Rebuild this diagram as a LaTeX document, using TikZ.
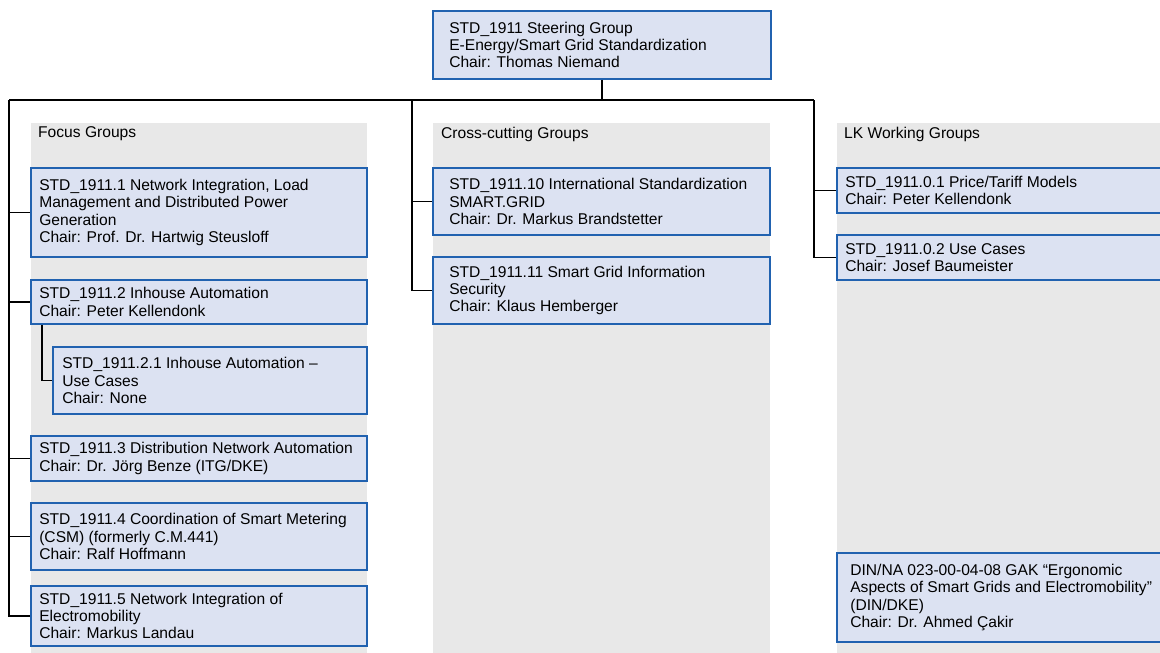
\documentclass[tikz,border=0pt]{standalone}
\usepackage{fontspec}
\setmainfont{Liberation Sans}
\definecolor{boxblue}{HTML}{2162B0}
\definecolor{boxfill}{HTML}{DCE2F2}
\definecolor{panelgray}{HTML}{E8E8E8}
\begin{document}
\begin{tikzpicture}[x=1pt,y=-1pt,
  panel/.style={fill=panelgray,draw=none},
  box/.style={draw=boxblue,fill=boxfill,line width=1.8pt,rectangle,inner sep=0pt},
  txt/.style={anchor=west,inner sep=0pt,align=left,font=\fontsize{15.6}{17.3}\selectfont},
  lbl/.style={anchor=west,inner sep=0pt,font=\fontsize{15.6}{17.3}\selectfont},
  conn/.style={draw=black,line width=1.6pt}]
\useasboundingbox (0,0) rectangle (1160,653);
\clip (0,0) rectangle (1160,653);
\fill[white] (0,0) rectangle (1160,653);

% panels
\path[panel] (31,123) rectangle (367,660);
\path[panel] (433,123) rectangle (770,660);
\path[panel] (837,123) rectangle (1200,660);
\node[lbl] (lfocus) at (38,134) {Focus Groups};
\node[lbl] (lcross) at (441,134) {Cross-cutting Groups};
\node[lbl] (llk) at (844,134) {LK Working Groups};

% steering group
\node[box,minimum width=338pt,minimum height=68pt] (sg) at (602,45) {};
\node[txt] (tsg) at ([xshift=17pt]sg.west) {STD\_1911 Steering Group\\E-Energy/Smart Grid Standardization\\Chair: Thomas Niemand};

% focus groups
\node[box,minimum width=336pt,minimum height=89pt] (b11) at (199,212.5) {};
\node[txt] (t11) at ([xshift=9pt]b11.west) {STD\_1911.1 Network Integration, Load\\Management and Distributed Power\\Generation\\Chair: Prof. Dr. Hartwig Steusloff};
\node[box,minimum width=336pt,minimum height=44pt] (b12) at (199,302) {};
\node[txt] (t12) at ([xshift=9pt]b12.west) {STD\_1911.2 Inhouse Automation\\Chair: Peter Kellendonk};
\node[box,minimum width=314pt,minimum height=67pt] (b121) at (210,380.5) {};
\node[txt] (t121) at ([xshift=10pt]b121.west) {STD\_1911.2.1 Inhouse Automation --\\Use Cases\\Chair: None};
\node[box,minimum width=336pt,minimum height=45pt] (b13) at (199,458.5) {};
\node[txt] (t13) at ([xshift=9pt]b13.west) {STD\_1911.3 Distribution Network Automation\\Chair: Dr. Jörg Benze (ITG/DKE)};
\node[box,minimum width=336pt,minimum height=67pt] (b14) at (199,536.5) {};
\node[txt] (t14) at ([xshift=9pt]b14.west) {STD\_1911.4 Coordination of Smart Metering\\(CSM) (formerly C.M.441)\\Chair: Ralf Hoffmann};
\node[box,minimum width=336pt,minimum height=60pt] (b15) at (199,616) {};
\node[txt] (t15) at ([xshift=9pt]b15.west) {STD\_1911.5 Network Integration of\\Electromobility\\Chair: Markus Landau};

% cross-cutting groups
\node[box,minimum width=337pt,minimum height=67pt] (b10) at (601.5,201.5) {};
\node[txt] (t10) at ([xshift=17pt]b10.west) {STD\_1911.10 International Standardization\\SMART.GRID\\Chair: Dr. Markus Brandstetter};
\node[box,minimum width=337pt,minimum height=67pt] (b1911x) at (601.5,290.5) {};
\node[txt] (t1911x) at ([xshift=17pt]b1911x.west) {STD\_1911.11 Smart Grid Information\\Security\\Chair: Klaus Hemberger};

% LK working groups
\node[box,minimum width=363pt,minimum height=45pt] (b01) at (1018.5,190.5) {};
\node[txt] (t01) at ([xshift=9pt]b01.west) {STD\_1911.0.1 Price/Tariff Models\\Chair: Peter Kellendonk};
\node[box,minimum width=363pt,minimum height=45pt] (b02) at (1018.5,257.5) {};
\node[txt] (t02) at ([xshift=9pt]b02.west) {STD\_1911.0.2 Use Cases\\Chair: Josef Baumeister};
\node[box,minimum width=363pt,minimum height=89pt] (din) at (1018.5,597.5) {};
\node[txt] (tdin) at ([xshift=14pt]din.west) {DIN/NA 023-00-04-08 GAK “Ergonomic\\Aspects of Smart Grids and Electromobility”\\(DIN/DKE)\\Chair: Dr. Ahmed Çakir};

% connectors
\coordinate (bus) at (602,100);
\coordinate (fl) at (9,100);
\coordinate (cl) at (412,100);
\coordinate (ll) at (814,100);
\draw[conn] (sg.south) -- (bus);
\draw[conn] (fl) -- (ll);
\draw[conn] (fl) |- (b15.west);
\draw[conn] (fl |- b11.west) -- (b11.west);
\draw[conn] (fl |- b12.west) -- (b12.west);
\draw[conn] (fl |- b13.west) -- (b13.west);
\draw[conn] (fl |- b14.west) -- (b14.west);
\draw[conn] ([xshift=12pt]b12.south west) |- (b121.west);
\draw[conn] (cl) |- (b1911x.west);
\draw[conn] (cl |- b10.west) -- (b10.west);
\draw[conn] (ll) |- (b02.west);
\draw[conn] (ll |- b01.west) -- (b01.west);
\end{tikzpicture}
\end{document}
